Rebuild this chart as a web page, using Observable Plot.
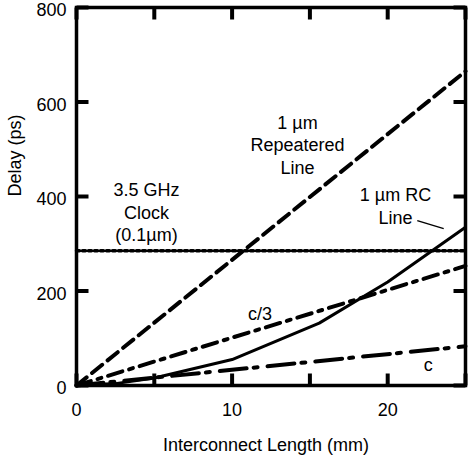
<!DOCTYPE html>
<html><head><meta charset="utf-8">
<script src="https://cdn.jsdelivr.net/npm/d3@7"></script>
<script src="https://cdn.jsdelivr.net/npm/@observablehq/plot@0.6"></script>
<style>body{margin:0;background:#fff}</style>
</head><body><div id="chart"></div>
<script>
// Data
const lengthMm = [0, 25];
const repeatered = [0, 665];
const clock = [285, 285];
const cThird = [0, 253];
const cLight = [0, 83];
const rcLength = [0, 2.5, 5, 10, 15.6, 20, 25];
const rcDelay = [0, 4, 16, 55, 132, 219, 335];
const xTicks = [0, 5, 10, 15, 20, 25];
const xLabels = [0, 10, 20];
const yTicks = [0, 200, 400, 600, 800];
const annX = [14.2, 4.5, 20.5, 11.8, 22.6];
const annY = [511, 368, 381, 154, 46];
const annText = ["1 µm\nRepeatered\nLine", "3.5 GHz\nClock\n(0.1µm)", "1 µm RC\nLine", "c/3", "c"];
const leaderX = [21.9, 23.6];
const leaderY = [349, 332];

const W = 468, H = 457, ML = 76, MR = 3, MT = 7, MB = 72;
const xDomain = [0, 25], yDomain = [0, 800];
const frameW = W - ML - MR, frameH = H - MT - MB, tickLen = 12;
// inward tick length expressed in data units of each scale
const tX = tickLen * (xDomain[1] - xDomain[0]) / frameW;
const tY = tickLen * (yDomain[1] - yDomain[0]) / frameH;

const pts = (xs, ys) => xs.map((x, i) => ({x, y: ys[i]}));
const ann = annText.map((t, i) => ({x: annX[i], y: annY[i], text: t}));
const tickData = xTicks.map(x => ({x}));
const tickDataY = yTicks.map(y => ({y}));
const tickStyle = {stroke: "#000", strokeWidth: 4};

const chart = Plot.plot({
  width: W,
  height: H,
  marginLeft: ML,
  marginRight: MR,
  marginTop: MT,
  marginBottom: MB,
  style: {fontFamily: "'Liberation Sans', Arial, sans-serif", fontSize: "18px", background: "white", color: "black"},
  x: {domain: xDomain, label: null},
  y: {domain: yDomain, label: null},
  marks: [
    Plot.line(pts(lengthMm, clock), {x: "x", y: "y", stroke: "black", strokeWidth: 3.5, strokeDasharray: "3,3"}),
    Plot.line(pts(lengthMm, repeatered), {x: "x", y: "y", stroke: "black", strokeWidth: 4, strokeDasharray: "13,7"}),
    Plot.line(pts(lengthMm, cThird), {x: "x", y: "y", stroke: "black", strokeWidth: 4, strokeDasharray: "15,7,4,7"}),
    Plot.line(pts(lengthMm, cLight), {x: "x", y: "y", stroke: "black", strokeWidth: 4, strokeDasharray: "27,7,4,10"}),
    Plot.line(pts(rcLength, rcDelay), {x: "x", y: "y", stroke: "black", strokeWidth: 3}),
    Plot.link([0], {x1: () => leaderX[0], y1: () => leaderY[0], x2: () => leaderX[1], y2: () => leaderY[1], stroke: "black", strokeWidth: 1.5}),
    Plot.text(ann, {x: "x", y: "y", text: "text", lineHeight: 1.25, fontSize: 18, fill: "black"}),
    // inward tick marks on all four sides
    Plot.link(tickData, {x1: "x", x2: "x", y1: () => yDomain[0], y2: () => yDomain[0] + tY, ...tickStyle}),
    Plot.link(tickData, {x1: "x", x2: "x", y1: () => yDomain[1] - tY, y2: () => yDomain[1], ...tickStyle}),
    Plot.link(tickDataY, {y1: "y", y2: "y", x1: () => xDomain[0], x2: () => xDomain[0] + tX, ...tickStyle}),
    Plot.link(tickDataY, {y1: "y", y2: "y", x1: () => xDomain[1] - tX, x2: () => xDomain[1], ...tickStyle}),
    // tick labels
    Plot.axisX(xLabels, {anchor: "bottom", tickSize: 0, tickPadding: 18, fontSize: 18, label: null}),
    Plot.axisY(yTicks, {anchor: "left", tickSize: 0, tickPadding: 10, dy: 3, fontSize: 18, label: null}),
    Plot.frame({stroke: "black", strokeWidth: 3.5}),
    Plot.text(["Interconnect Length (mm)"], {frameAnchor: "bottom", lineAnchor: "middle", dy: 60, dx: -5, fontSize: 18, fill: "black"}),
    Plot.text(["Delay (ps)"], {frameAnchor: "left", lineAnchor: "middle", dx: -61, rotate: -90, fontSize: 18, fill: "black"})
  ]
});
document.getElementById("chart").append(chart);
</script>
</body></html>
